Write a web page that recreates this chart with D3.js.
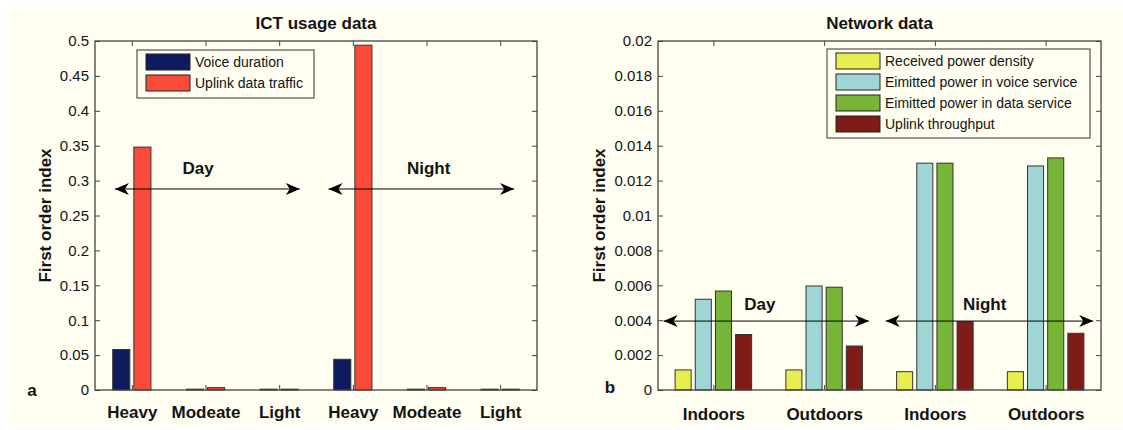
<!DOCTYPE html>
<html>
<head>
<meta charset="utf-8">
<script src="https://cdnjs.cloudflare.com/ajax/libs/d3/7.8.5/d3.min.js"></script>
<style>
  body { margin: 0; background: #fff; }
  text { font-family: "Liberation Sans", Arial, sans-serif; fill: #141414; }
  .title, .xlab, .ylab, .note, .panel { font-weight: bold; font-size: 17px; }
  .legend text { font-size: 14px; }
</style>
</head>
<body>
<div class="chart"></div>
<script>
// ICT usage data (panel a)
var usageCategories = ["Heavy", "Modeate", "Light", "Heavy", "Modeate", "Light"];
var voiceDuration = [0.058, 0.0012, 0.0012, 0.044, 0.0012, 0.0012];
var uplinkTraffic = [0.348, 0.0034, 0.0012, 0.494, 0.0034, 0.0012];
var usageTicks = [0, 0.05, 0.1, 0.15, 0.2, 0.25, 0.3, 0.35, 0.4, 0.45, 0.5];

// Network data (panel b)
var networkCategories = ["Indoors", "Outdoors", "Indoors", "Outdoors"];
var receivedPower = [0.00115, 0.00115, 0.00105, 0.00105];
var voicePower = [0.0052, 0.00596, 0.0130, 0.01284];
var dataPower = [0.00567, 0.00589, 0.0130, 0.0133];
var uplinkThroughput = [0.00318, 0.00252, 0.00391, 0.00325];
var networkTicks = [0, 0.002, 0.004, 0.006, 0.008, 0.01, 0.012, 0.014, 0.016, 0.018, 0.02];

var svgWidth = 1123;
var svgHeight = 430;

var svg = d3
  .select(".chart")
  .append("svg")
  .attr("width", svgWidth)
  .attr("height", svgHeight);

svg.append("rect")
  .attr("x", 7).attr("y", 7)
  .attr("width", svgWidth - 7).attr("height", 419)
  .attr("fill", "#fffef0");

function fmt(d) {
  return d === 0 ? "0" : String(+d.toFixed(4));
}

function drawArrow(g, x1, x2, y) {
  g.append("line")
    .attr("x1", x1).attr("x2", x2).attr("y1", y).attr("y2", y)
    .attr("stroke", "#000").attr("stroke-width", 1);
  [[x1, 1], [x2, -1]].forEach(function(a) {
    var x = a[0], k = a[1];
    g.append("path")
      .attr("d", "M" + x + "," + y +
        "L" + (x + k * 14) + "," + (y - 6) +
        "L" + (x + k * 10) + "," + y +
        "L" + (x + k * 14) + "," + (y + 6) + "Z")
      .attr("fill", "#000");
  });
}

function drawPanel(p) {
  var g = svg.append("g")
    .attr("transform", "translate(" + p.left + "," + p.top + ")");
  var width = p.width, height = p.height;
  var n = p.categories.length;

  var xScale = d3.scaleLinear().domain([0.5, n + 0.5]).range([0, width]);
  var yScale = d3.scaleLinear().domain([0, p.yMax]).range([height, 0]);
  var unit = xScale(1) - xScale(0);
  var m = p.series.length;

  p.series.forEach(function(s, j) {
    var off = (j - (m - 1) / 2) * p.step;
    g.selectAll(".bar" + j)
      .data(s.values)
      .enter()
      .append("rect")
      .attr("x", function(d, i) { return xScale(i + 1 + off) - p.barW * unit / 2; })
      .attr("y", function(d) { return yScale(d); })
      .attr("width", p.barW * unit)
      .attr("height", function(d) { return height - yScale(d); })
      .attr("fill", s.color)
      .attr("stroke", "#333")
      .attr("stroke-width", 1);
  });

  var idx = d3.range(1, n + 1);

  var left = g.append("g")
    .call(d3.axisLeft(yScale).tickValues(p.ticks).tickFormat(fmt)
      .tickSizeInner(-5).tickSizeOuter(0).tickPadding(6));
  left.selectAll("text").style("font-size", "15px");

  g.append("g").attr("transform", "translate(" + width + ",0)")
    .call(d3.axisRight(yScale).tickValues(p.ticks).tickFormat("")
      .tickSizeInner(-5).tickSizeOuter(0));

  g.append("g")
    .call(d3.axisTop(xScale).tickValues(idx).tickFormat("")
      .tickSizeInner(-5).tickSizeOuter(0));

  var bottom = g.append("g").attr("transform", "translate(0," + height + ")")
    .call(d3.axisBottom(xScale).tickValues(idx)
      .tickFormat(function(d) { return p.categories[d - 1]; })
      .tickSizeInner(-5).tickSizeOuter(0).tickPadding(p.xPad));
  bottom.selectAll("text").attr("class", "xlab");

  g.selectAll(".domain").remove();
  g.selectAll(".tick line").attr("stroke", "#444");

  g.append("rect")
    .attr("width", width).attr("height", height)
    .attr("fill", "none").attr("stroke", "#444").attr("stroke-width", 1.3);

  svg.append("text")
    .attr("class", "title")
    .attr("x", p.left + width / 2).attr("y", 29)
    .attr("text-anchor", "middle")
    .text(p.title);

  svg.append("text")
    .attr("class", "ylab")
    .attr("transform", "translate(" + p.yLabelX + "," + (p.top + height / 2) + ") rotate(-90)")
    .attr("text-anchor", "middle")
    .attr("dy", "0.35em")
    .text("First order index");

  svg.append("text")
    .attr("class", "panel")
    .attr("x", p.panelX).attr("y", p.top + height + p.panelDy)
    .attr("text-anchor", "middle")
    .text(p.panel);

  p.arrows.forEach(function(a) {
    drawArrow(g, xScale(a.from), xScale(a.to), yScale(a.y));
    g.append("text")
      .attr("class", "note")
      .attr("x", xScale(a.textX)).attr("y", yScale(a.textY))
      .attr("dy", "0.35em")
      .attr("text-anchor", "middle")
      .text(a.label);
  });

  var lg = svg.append("g").attr("class", "legend")
    .attr("transform", "translate(" + p.legend.x + "," + p.legend.y + ")");
  lg.append("rect")
    .attr("width", p.legend.w).attr("height", p.legend.h)
    .attr("fill", "#fffef0").attr("stroke", "#333").attr("stroke-width", 1);
  p.series.forEach(function(s, j) {
    var yy = 4 + j * p.legend.row;
    lg.append("rect")
      .attr("x", 9).attr("y", yy)
      .attr("width", 44).attr("height", 16)
      .attr("fill", s.color).attr("stroke", "#222").attr("stroke-width", 1);
    lg.append("text")
      .attr("x", 58).attr("y", yy + 8)
      .attr("dy", "0.35em")
      .text(s.name);
  });
}

drawPanel({
  left: 95, top: 41, width: 442, height: 349,
  title: "ICT usage data",
  categories: usageCategories,
  series: [
    { name: "Voice duration", values: voiceDuration, color: "#0e1b5e" },
    { name: "Uplink data traffic", values: uplinkTraffic, color: "#fa4b3a" }
  ],
  yMax: 0.5, ticks: usageTicks,
  step: 0.287, barW: 0.232, xPad: 16,
  yLabelX: 45, panel: "a", panelX: 32, panelDy: 6,
  arrows: [
    { from: 0.77, to: 3.28, y: 0.288, label: "Day", textX: 1.9, textY: 0.318 },
    { from: 3.67, to: 6.19, y: 0.288, label: "Night", textX: 5.03, textY: 0.318 }
  ],
  legend: { x: 137, y: 50, w: 177, h: 48, row: 21 }
});

drawPanel({
  left: 658, top: 41, width: 443, height: 349,
  title: "Network data",
  categories: networkCategories,
  series: [
    { name: "Received power density", values: receivedPower, color: "#e8ee50" },
    { name: "Eimitted power in voice service", values: voicePower, color: "#9fd6d5" },
    { name: "Eimitted power in data service", values: dataPower, color: "#76b537" },
    { name: "Uplink throughput", values: uplinkThroughput, color: "#801c17" }
  ],
  yMax: 0.02, ticks: networkTicks,
  step: 0.182, barW: 0.145, xPad: 18,
  yLabelX: 599, panel: "b", panelX: 610, panelDy: 3,
  arrows: [
    { from: 0.55, to: 2.405, y: 0.00395, label: "Day", textX: 1.42, textY: 0.00493 },
    { from: 2.556, to: 4.43, y: 0.00395, label: "Night", textX: 3.45, textY: 0.00493 }
  ],
  legend: { x: 827, y: 49, w: 263, h: 89, row: 21 }
});
</script>
</body>
</html>
